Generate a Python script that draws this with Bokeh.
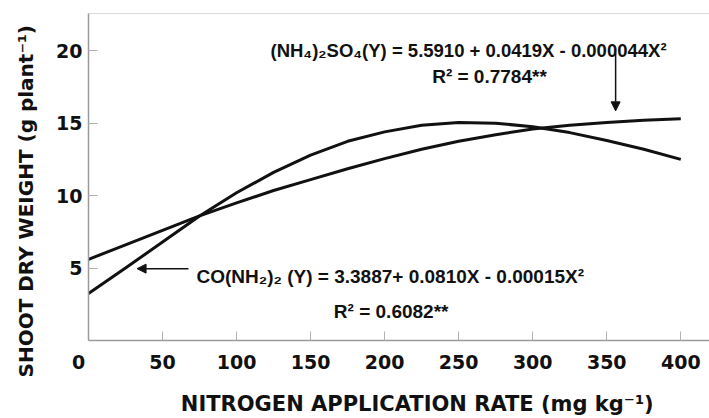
from bokeh.plotting import figure
from bokeh.models import Label, Arrow, NormalHead, Span, FixedTicker, Range1d, Title
from bokeh.embed import file_html
from bokeh.resources import INLINE

# ---- data ----
n_rate = [0, 25, 50, 75, 100, 125, 150, 175, 200, 225, 250, 275, 300, 325, 350, 375, 400]
ammonium_sulfate = [5.6, 6.6, 7.6, 8.6, 9.5, 10.35, 11.1, 11.85, 12.55, 13.2, 13.75, 14.2, 14.6,
                    14.85, 15.05, 15.2, 15.3]
urea = [3.25, 5.0, 6.8, 8.6, 10.2, 11.6, 12.8, 13.75, 14.4, 14.85, 15.05, 15.0, 14.75,
        14.35, 13.8, 13.2, 12.5]
x_ticks = [0, 50, 100, 150, 200, 250, 300, 350, 400]
y_ticks = [5, 10, 15, 20]

NBSP = "\u00a0"
origin_label = "0" + NBSP * 3

as_equation = "(NH\u2084)\u2082SO\u2084(Y) = 5.5910 + 0.0419X - 0.000044X\u00b2"
as_r2 = "R\u00b2 = 0.7784**"
urea_equation = "CO(NH\u2082)\u2082 (Y) = 3.3887+ 0.0810X - 0.00015X\u00b2"
urea_r2 = "R\u00b2 = 0.6082**"
x_title = "NITROGEN APPLICATION RATE (mg kg\u207b\u00b9)"
y_title = "SHOOT DRY WEIGHT (g plant\u207b\u00b9)"

LABEL_FONT = "DejaVu Sans"
EQ_FONT = "Liberation Sans"
AXIS_GRAY = "#9a9a9a"
INK = "#111111"

p = figure(width=709, height=418, output_backend="svg", toolbar_location=None,
           x_range=Range1d(0, 419.4), y_range=Range1d(0, 22.57),
           min_border_left=88, min_border_right=0, min_border_top=13, min_border_bottom=75)
p.outline_line_color = None
p.xgrid.grid_line_color = None
p.ygrid.grid_line_color = None
p.background_fill_color = "white"
p.border_fill_color = "white"

for ax, ticks in ((p.xaxis[0], x_ticks), (p.yaxis[0], y_ticks)):
    ax.ticker = FixedTicker(ticks=ticks)
    ax.axis_line_color = AXIS_GRAY
    ax.axis_line_width = 1.5
    ax.major_tick_line_color = "#b0b0b0"
    ax.major_tick_line_width = 1
    ax.major_tick_in = 9
    ax.major_tick_out = 0
    ax.minor_tick_line_color = None
    ax.major_label_text_font = LABEL_FONT
    ax.major_label_text_font_style = "bold"
    ax.major_label_text_font_size = "19px"
    ax.major_label_text_color = INK
    ax.axis_label_text_font = LABEL_FONT
    ax.axis_label_text_font_style = "bold"
    ax.axis_label_text_color = INK

p.xaxis[0].major_label_standoff = 10
p.xaxis[0].major_label_overrides = {0: origin_label}
p.xaxis[0].axis_label = NBSP * 5 + x_title
p.xaxis[0].axis_label_standoff = 16
p.xaxis[0].axis_label_text_font_size = "21px"

p.yaxis[0].major_label_standoff = 6

# y title in the left panel, starting below the frame bottom like the reference
p.add_layout(Title(text=y_title, align="left", offset=-37, standoff=27, vertical_align="top",
                   text_font=LABEL_FONT, text_font_style="bold", text_font_size="20px",
                   text_color=INK), "left")

# top border line
p.add_layout(Span(location=22.57, dimension="width", line_color="#b8b8b8", line_width=1))

# curves
p.line(n_rate, ammonium_sulfate, line_width=3, color=INK, line_join="round")
p.line(n_rate, urea, line_width=3, color=INK, line_join="round")

# arrows
p.add_layout(Arrow(end=NormalHead(size=9, fill_color=INK, line_color=INK),
                   x_start=356, y_start=19.84, x_end=356, y_end=15.85,
                   line_width=1.5, line_color=INK))
p.add_layout(Arrow(end=NormalHead(size=9, fill_color=INK, line_color=INK),
                   x_start=67.5, y_start=4.96, x_end=32.8, y_end=4.96,
                   line_width=1.5, line_color=INK))

def add_text(txt, x, y, size="19px"):
    p.add_layout(Label(x=x, y=y, text=txt, text_font=EQ_FONT, text_font_style="bold",
                       text_font_size=size, text_align="left", text_baseline="alphabetic",
                       text_color=INK))

add_text(as_equation, 122.9, 20.04, "18.5px")
add_text(as_r2, 232.1, 18.21)
add_text(urea_equation, 72.9, 4.43)
add_text(urea_r2, 165.7, 2.03)

open("out.html", "w").write(file_html(p, INLINE))
